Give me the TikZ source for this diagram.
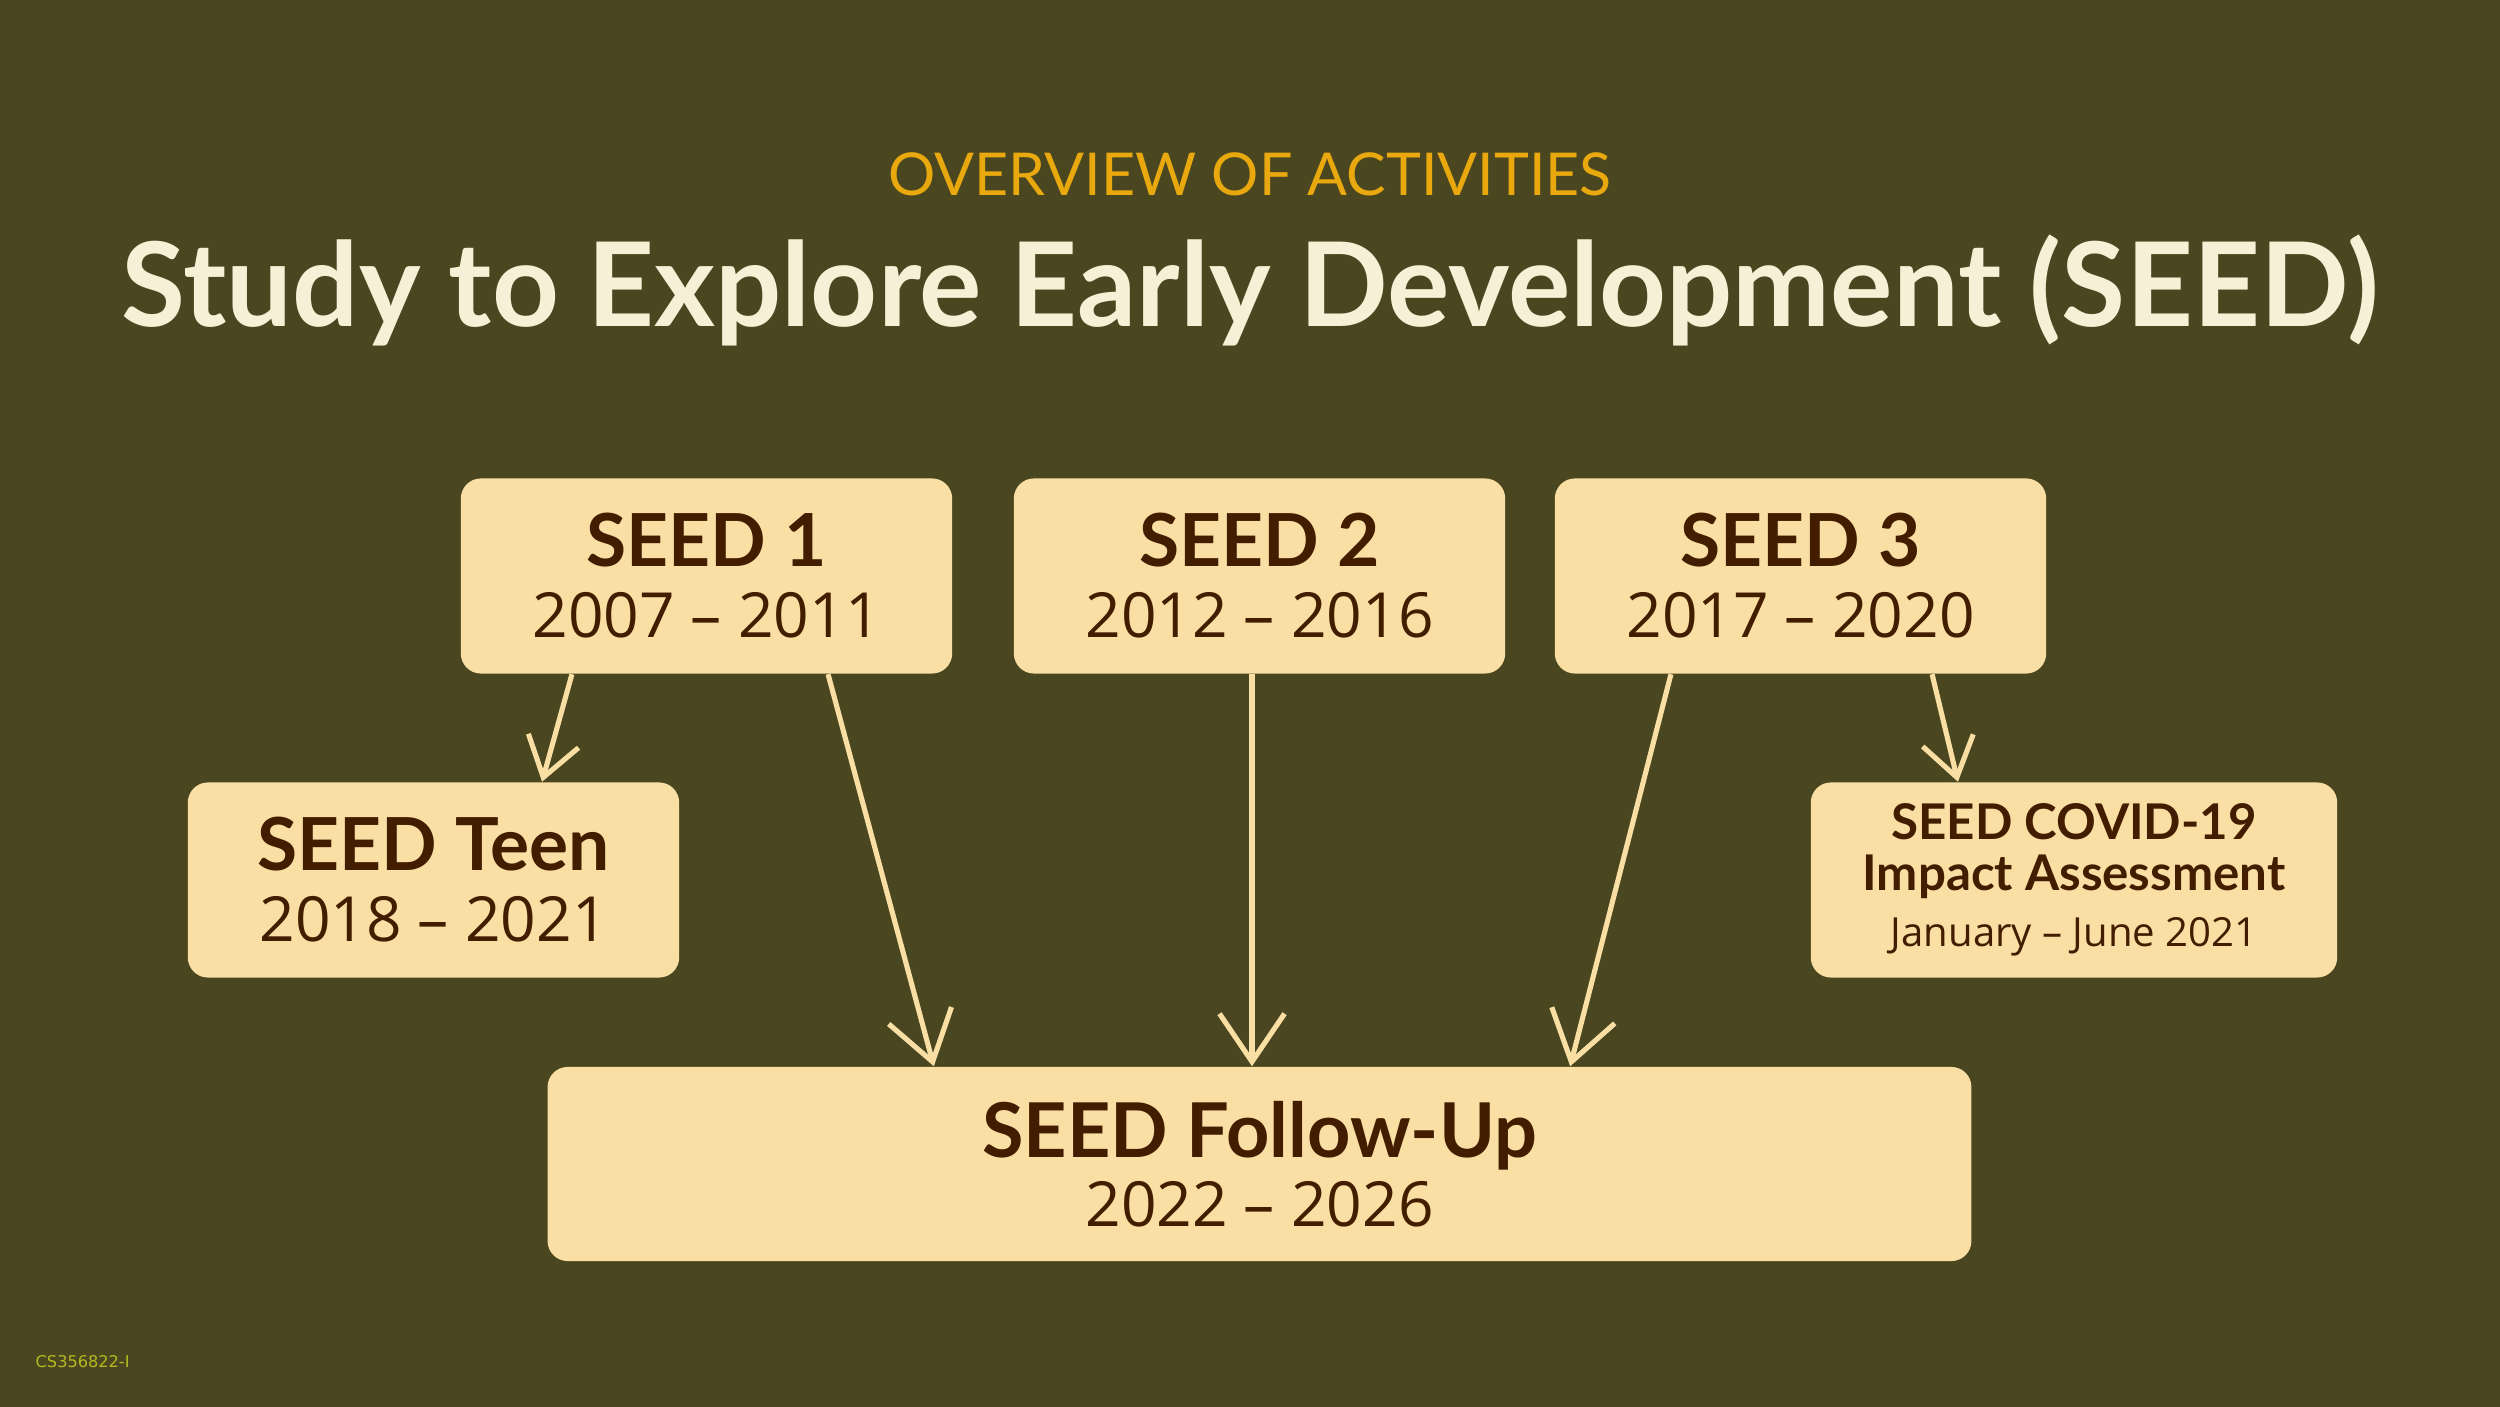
\documentclass[tikz,border=0pt]{standalone}
\usepackage{fontspec}
\setmainfont{Open Sans}
\newfontfamily\headfont{Lato}
\newfontfamily\datefont{Open Sans}
\newfontfamily\codefont{DejaVu Sans}
\usetikzlibrary{arrows.meta,calc}
\definecolor{bgcol}{RGB}{74,71,32}
\definecolor{boxcol}{RGB}{250,223,165}
\definecolor{txtcol}{RGB}{66,29,0}
\definecolor{titlecol}{RGB}{245,240,214}
\definecolor{subcol}{RGB}{232,168,14}
\definecolor{codecol}{RGB}{181,184,32}
\tikzset{
  box/.style={fill=boxcol, rounded corners=0.2cm, inner sep=0pt,
    minimum width=4.91cm, minimum height=1.95cm, align=center,
    text=txtcol, font=\fontsize{18}{20.2}\selectfont},
  conn/.style={draw=boxcol, line width=1.45pt,
    -{Straight Barb[length=4.8mm,width=6.5mm,line width=1.45pt]}},
  shortconn/.style={draw=boxcol, line width=1.45pt,
    -{Straight Barb[length=3.8mm,width=5.2mm,line width=1.45pt]}},
}
\newcommand{\hd}[1]{{\headfont\bfseries\fontsize{20.8}{20.2}\selectfont #1}}
\newcommand{\dt}[1]{{\datefont\fontsize{17.7}{20.2}\selectfont #1}}
\begin{document}
\begin{tikzpicture}[x=0.01cm,y=-0.01cm]
\fill[bgcol] (0,0) rectangle (2500,1407);
\useasboundingbox (0,0) rectangle (2500,1407);

\node[anchor=base, text=subcol, font=\headfont\fontsize{16.8}{20}\selectfont] (sub) at (1250,196) {OVERVIEW OF ACTIVITIES};
\node[anchor=base, text=titlecol, font=\headfont\bfseries\fontsize{33.2}{40}\selectfont] (title) at (1250,327) {Study to Explore Early Development (SEED)};

\node[box] (s1) at (706.5,576) {\hd{SEED 1}\\\dt{2007 – 2011}};
\node[box] (s2) at (1259.5,576) {\hd{SEED 2}\\\dt{2012 – 2016}};
\node[box] (s3) at (1800.5,576) {\hd{SEED 3}\\\dt{2017 – 2020}};
\node[box] (teen) at (433.5,880) {\hd{SEED Teen}\\\dt{2018 – 2021}};
\node[box, minimum width=5.26cm, font=\fontsize{14}{14.5}\selectfont] (covid) at (2074,880)
  {{\headfont\bfseries\fontsize{14}{14.5}\selectfont SEED COVID-19}\\{\headfont\bfseries\fontsize{14}{14.5}\selectfont Impact Assessment}\\[1.5pt]{\datefont\fontsize{11.4}{14.5}\selectfont January – June 2021}};
\node[box, minimum width=14.23cm, minimum height=1.94cm, font=\fontsize{17.7}{19.5}\selectfont] (fu) at (1259.5,1164)
  {{\headfont\bfseries\fontsize{21.5}{19.5}\selectfont SEED Follow-Up}\\{\datefont\fontsize{17.7}{19.5}\selectfont 2022 – 2026}};

\draw[shortconn] ([xshift=-1.345cm]s1.south) -- ([xshift=1.085cm]teen.north);
\draw[conn] ([xshift=1.215cm]s1.south) -- ([xshift=-3.255cm]fu.north);
\draw[conn] ([xshift=-0.075cm]s2.south) -- ([xshift=-0.075cm]fu.north);
\draw[conn] ([xshift=-1.295cm]s3.south) -- ([xshift=3.105cm]fu.north);
\draw[shortconn] ([xshift=1.315cm]s3.south) -- ([xshift=-1.16cm]covid.north);

\node[anchor=base west, text=codecol, font=\codefont\fontsize{4.6}{6}\selectfont, inner sep=0pt] (code) at (35,1367) {CS356822-I};
\end{tikzpicture}
\end{document}
